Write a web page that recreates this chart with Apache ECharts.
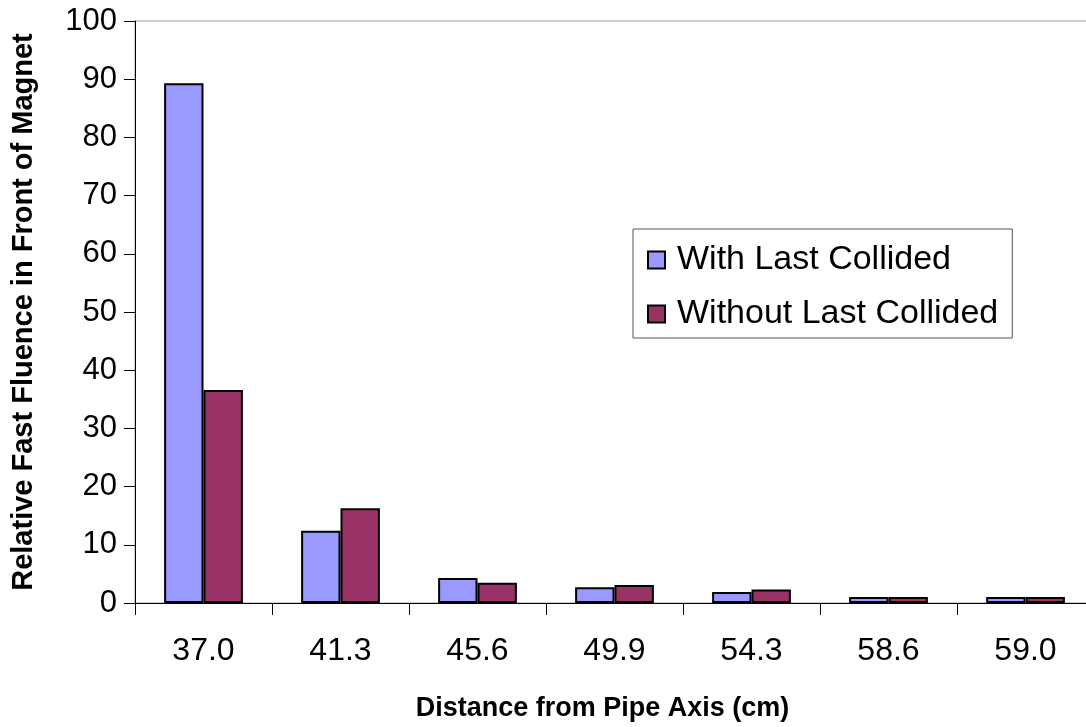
<!DOCTYPE html>
<html>
<head>
<meta charset="utf-8">
<script src="https://cdn.jsdelivr.net/npm/echarts@6/dist/echarts.min.js"></script>
<style>html,body{margin:0;padding:0;background:#fff}#c{width:1086px;height:727px}</style>
</head>
<body>
<div id="c"></div>
<script>
var categories = ['37.0', '41.3', '45.6', '49.9', '54.3', '58.6', '59.0'];
var withLast = [89.3, 12.4, 4.3, 2.7, 1.9, 1.05, 1.05];
var withoutLast = [36.6, 16.3, 3.5, 3.1, 2.3, 1.05, 1.05];
var seriesNames = ['With Last Collided', 'Without Last Collided'];

var chart = echarts.init(document.getElementById('c'), null, {renderer: 'canvas'});
var font = '"Liberation Sans", Arial, sans-serif';
chart.setOption({
  animation: false,
  backgroundColor: '#fff',
  grid: {left: 135, right: -8, top: 21, bottom: 124, show: true, borderColor: '#a0a0a0', borderWidth: 1, containLabel: false, outerBoundsMode: 'none'},
  legend: {
    orient: 'vertical', left: 633, top: 229,
    width: 382, height: 106,
    padding: [14, 14, 7, 14],
    itemWidth: 17, itemHeight: 17, itemGap: 20,
    borderColor: '#555', borderWidth: 1,
    textStyle: {fontFamily: font, fontSize: 34, color: '#000', padding: [0,0,0,7]},
    icon: 'rect',
    data: seriesNames
  },
  xAxis: {
    type: 'category', data: categories,
    name: 'Distance from Pipe Axis (cm)', nameLocation: 'middle', nameGap: 92,
    nameTextStyle: {fontFamily: font, fontSize: 27, fontWeight: 'bold', color: '#000', padding: [0, 24, 0, 0]},
    axisLine: {lineStyle: {color: '#000', width: 1}},
    axisTick: {show: true, length: 12, lineStyle: {color: '#000'}},
    axisLabel: {fontFamily: font, fontSize: 32, color: '#000', margin: 32},
    splitLine: {show: false}
  },
  yAxis: {
    type: 'value', min: 0, max: 100, interval: 10,
    name: 'Relative Fast Fluence in Front of Magnet', nameLocation: 'middle', nameGap: 97,
    nameTextStyle: {fontFamily: font, fontSize: 29, fontWeight: 'bold', color: '#000'},
    axisLine: {show: true, lineStyle: {color: '#000', width: 1}},
    axisTick: {show: true, length: 11, lineStyle: {color: '#000'}},
    axisLabel: {fontFamily: font, fontSize: 31, color: '#000', margin: 18},
    splitLine: {show: false}
  },
  series: [
    {name: seriesNames[0], type: 'bar', data: withLast, barGap: '0%', barCategoryGap: '42.5%',
     itemStyle: {color: '#9999FF', borderColor: '#000', borderWidth: 2}},
    {name: seriesNames[1], type: 'bar', data: withoutLast, barGap: '0%', barCategoryGap: '42.5%',
     itemStyle: {color: '#993366', borderColor: '#000', borderWidth: 2}}
  ]
});
</script>
</body>
</html>
